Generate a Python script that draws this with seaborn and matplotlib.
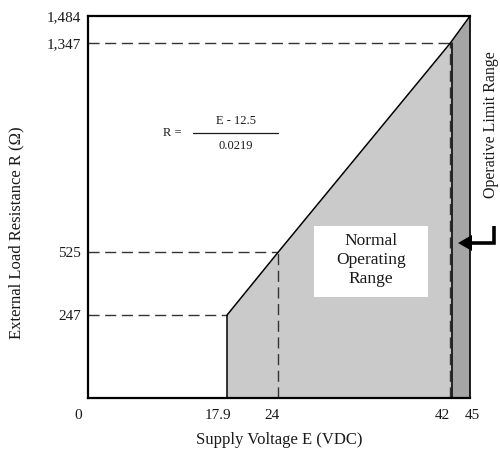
import numpy as np
import matplotlib
matplotlib.use("Agg")
import matplotlib.pyplot as plt
import seaborn as sns
from matplotlib.patches import Rectangle, Polygon
from matplotlib.lines import Line2D
from matplotlib.transforms import ScaledTranslation

# Operating envelope: R = (E - 12.5) / 0.0219
voltage = [17.9, 24, 42, 45]
resistance = [247, 525, 1347, 1484]

x_ticks = [0, 17.9, 24, 42, 45]
x_tick_labels = ["0", "17.9", "24", "42", "45"]
y_ticks = [247, 525, 1347, 1484]
y_tick_labels = ["247", "525", "1,347", "1,484"]

# Schematic (non-proportional) axis: where each break value sits along the axis
x_breaks = [0, 17.9, 24, 42, 45]
x_frac = [0, 0.3626, 0.4978, 0.9476, 1.0]
y_breaks = [0, 247, 525, 1347, 1484]
y_frac = [0, 0.2154, 0.3817, 0.928, 1.0]

LIGHT = "#c9cac9"
DARK = "#a4a5a4"
INK = "#1a1a1a"

sns.set_theme(style="white")
plt.rcParams["font.family"] = ["Liberation Serif", "DejaVu Serif"]
plt.rcParams["mathtext.fontset"] = "dejavuserif"

fig = plt.figure(figsize=(5, 4.54), dpi=100)
W, H = 500, 454
ax = fig.add_axes([88.3 / W, 1 - 397.7 / H, 381.7 / W, 381.7 / H])

ax.set_xscale("function", functions=(lambda v: np.interp(v, x_breaks, x_frac),
                                     lambda v: np.interp(v, x_frac, x_breaks)))
ax.set_yscale("function", functions=(lambda v: np.interp(v, y_breaks, y_frac),
                                     lambda v: np.interp(v, y_frac, y_breaks)))
ax.set_xlim(0, 45)
ax.set_ylim(0, 1484)

# Normal operating range and operative limit band
ax.fill_between(voltage[:3], 0, resistance[:3], color=LIGHT, lw=0, zorder=1)
ax.fill_between(voltage[2:], 0, resistance[2:], color=DARK, lw=0, zorder=1)

# Boundary of the envelope
sns.lineplot(x=voltage, y=resistance, color="black", lw=1.1, ax=ax,
             sort=False, estimator=None, zorder=3)
ax.vlines(voltage[0], 0, resistance[0], color="black", lw=1.1, zorder=3)
shift = ScaledTranslation(2 / 100, 0, fig.dpi_scale_trans)
ax.plot([voltage[2], voltage[2]], [0, resistance[2]], color="black", lw=1.1,
        zorder=3, transform=ax.transData + shift)

# Reference guide lines
dash = dict(color="#333333", lw=1.0, dashes=(8, 4), zorder=2)
for e, r in zip(voltage[:3], resistance[:3]):
    ax.plot([0, e], [r, r], **dash)
for e, r in zip(voltage[1:3], resistance[1:3]):
    ax.plot([e, e], [0, r], **dash)

# Frame
for side in ["left", "bottom", "top"]:
    ax.spines[side].set_linewidth(1.6)
    ax.spines[side].set_color("black")
ax.spines["right"].set_linewidth(1.2)
ax.spines["right"].set_color("black")

ax.set_xticks(x_ticks, x_tick_labels)
ax.set_yticks(y_ticks, y_tick_labels)
ax.tick_params(axis="both", length=0, labelsize=11, colors=INK)
ax.tick_params(axis="x", pad=8)
ax.tick_params(axis="y", pad=5)
for lab, dx in zip(ax.get_xticklabels(), [-10, -9, -6, -8, 2]):
    lab.set_transform(lab.get_transform() + ScaledTranslation(dx / 100, 0, fig.dpi_scale_trans))

ax.set_xlabel("")
ax.set_ylabel("")
fig.text(279.5 / W, 1 - 440 / H, "Supply Voltage E (VDC)", ha="center", va="center",
         fontsize=12, color=INK)
fig.text(16 / W, 1 - 233 / H, "External Load Resistance R (Ω)", ha="center", va="center",
         rotation=90, fontsize=12, color=INK)


def axpos(px, py):
    return (px - 88.3) / 381.7, (397.7 - py) / 381.7


# Formula
tx, ty = axpos(172, 133)
ax.text(tx, ty, "R =", transform=ax.transAxes, ha="center", va="center", fontsize=9, color=INK)
tx, ty = axpos(236, 121)
ax.text(tx, ty, "E - 12.5", transform=ax.transAxes, ha="center", va="center", fontsize=9, color=INK)
tx, ty = axpos(236, 146)
ax.text(tx, ty, "0.0219", transform=ax.transAxes, ha="center", va="center", fontsize=9, color=INK)
x0, yb = axpos(193, 132.5)
x1, _ = axpos(278, 132.5)
ax.add_line(Line2D([x0, x1], [yb, yb], transform=ax.transAxes, color=INK, lw=0.9))

# Label box for the normal operating range
bx0, by0 = axpos(314, 297)
bx1, by1 = axpos(428, 226)
ax.add_patch(Rectangle((bx0, by0), bx1 - bx0, by1 - by0, transform=ax.transAxes,
                       facecolor="white", edgecolor="none", zorder=4))
tx, ty = axpos(371, 260)
ax.text(tx, ty, "Normal\nOperating\nRange", transform=ax.transAxes, ha="center",
        va="center", fontsize=12.5, linespacing=1.25, color=INK, zorder=5)

# Operative limit callout
fig.text(491 / W, 1 - 125 / H, "Operative Limit Range", ha="center", va="center",
         rotation=90, fontsize=11.5, color=INK)
fig.add_artist(Line2D([494 / W, 494 / W, 470 / W], [1 - 226 / H, 1 - 243 / H, 1 - 243 / H],
                      transform=fig.transFigure, color="black", lw=2.6,
                      solid_joinstyle="miter", solid_capstyle="butt"))
fig.add_artist(Polygon([[458 / W, 1 - 243 / H], [472 / W, 1 - 235 / H], [472 / W, 1 - 251 / H]],
                       closed=True, transform=fig.transFigure, facecolor="black",
                       edgecolor="none"))

fig.savefig("out.png", dpi=100)
